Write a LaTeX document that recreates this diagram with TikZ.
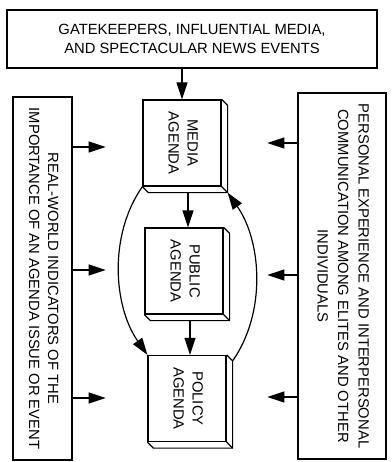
\documentclass[tikz,border=0pt]{standalone}
\usepackage{fontspec}
\setmainfont{Liberation Sans}
\usetikzlibrary{arrows.meta, calc}
\newcommand{\vlabel}[1]{\rotatebox{-90}{\begin{tabular}{@{}c@{}}#1\end{tabular}}}

\begin{document}
\begin{tikzpicture}[
  x=1pt, y=1pt,
  font=\fontsize{14.8}{19}\selectfont,
  box/.style={rectangle, draw=black, line width=1.2pt, fill=white, inner sep=0pt},
  agbox/.style={box, minimum width=78pt, minimum height=86pt},
  arr/.style={-{Triangle[length=17pt, width=11pt]}, line width=1.2pt}
]
\useasboundingbox (0,0) rectangle (391,-462);

% --- top source box ---
\node[box, align=center, minimum width=370pt, minimum height=58pt]
  at (192,-39) (top) {GATEKEEPERS, INFLUENTIAL MEDIA,\\AND SPECTACULAR NEWS EVENTS};

% --- side boxes ---
\node[box, minimum width=59pt, minimum height=363pt] at (42.5,-278.5) (real)
  {\vlabel{REAL-WORLD INDICATORS OF THE\\IMPORTANCE OF AN AGENDA ISSUE OR EVENT}};
\node[box, minimum width=88pt, minimum height=366pt] at (342,-276) (pers)
  {\vlabel{PERSONAL EXPERIENCE AND INTERPERSONAL\\[1.5pt]COMMUNICATION AMONG ELITES AND OTHER\\[1.5pt]INDIVIDUALS}};

% --- agenda column ---
\node[agbox] at (182,-143)   (media)  {\vlabel{MEDIA\\AGENDA}};
\node[agbox] at (184,-271)   (public) {\vlabel{PUBLIC\\AGENDA}};
\node[agbox] at (187,-398.5) (policy) {\vlabel{POLICY\\AGENDA}};

% --- box depth ---
\foreach \n in {media, public, policy} {
  \draw[line width=1.2pt] (\n.north east) -- ++(6,-6) coordinate (\n-ne)
    -- ($(\n.south east)+(6,-6)$) coordinate (\n-se)
    -- ($(\n.south west)+(6,-6)$) -- (\n.south west);
  \draw[line width=1.2pt] (\n.south east) -- (\n-se);
  \coordinate (\n-b) at ($(\n.south)+(6,-6)$);
}

% --- arrows: down the agenda column ---
\draw[arr] (media.north |- top.south) -- (media.north);
\draw[arr] (media-b) -- (media-b |- public.north);
\draw[arr] (public-b) -- (public-b |- policy.north);
\draw[arr] (media.south west) to[out=-125, in=125, looseness=0.9] (policy.north west);
\draw[arr] (policy-ne) to[out=55, in=-55, looseness=0.9] (media-se);

% --- arrows: side influences ---
\foreach \y in {147, 270, 398} \draw[arr] (real.east |- 0,-\y) -- ++(33,0);
\foreach \y in {143, 275, 397} \draw[arr] (pers.west |- 0,-\y) -- ++(-30,0);
\end{tikzpicture}
\end{document}
